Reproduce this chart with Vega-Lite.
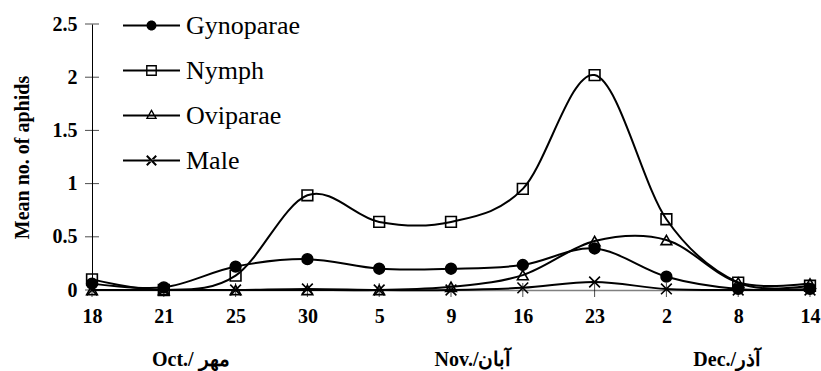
{
  "$schema": "https://vega.github.io/schema/vega-lite/v6.json",
  "autosize": "none",
  "width": 718,
  "height": 266,
  "padding": {"left": 92, "top": 24, "right": 11, "bottom": 81},
  "background": "white",
  "config": {
    "view": {"stroke": null},
    "font": "Liberation Serif",
    "legend": {"labelFont": "Liberation Serif", "labelFontSize": 26, "labelColor": "black"}
  },
  "datasets": {
    "counts": [
      {"day": "18", "series": "Gynoparae", "value": 0.06},
      {"day": "21", "series": "Gynoparae", "value": 0.025},
      {"day": "25", "series": "Gynoparae", "value": 0.22},
      {"day": "30", "series": "Gynoparae", "value": 0.29},
      {"day": "5", "series": "Gynoparae", "value": 0.2},
      {"day": "9", "series": "Gynoparae", "value": 0.2},
      {"day": "16", "series": "Gynoparae", "value": 0.235},
      {"day": "23", "series": "Gynoparae", "value": 0.39},
      {"day": "2", "series": "Gynoparae", "value": 0.125},
      {"day": "8", "series": "Gynoparae", "value": 0.01},
      {"day": "14", "series": "Gynoparae", "value": 0.01},
      {"day": "18", "series": "Nymph", "value": 0.1},
      {"day": "21", "series": "Nymph", "value": 0.0},
      {"day": "25", "series": "Nymph", "value": 0.135},
      {"day": "30", "series": "Nymph", "value": 0.89},
      {"day": "5", "series": "Nymph", "value": 0.64},
      {"day": "9", "series": "Nymph", "value": 0.64},
      {"day": "16", "series": "Nymph", "value": 0.95},
      {"day": "23", "series": "Nymph", "value": 2.02},
      {"day": "2", "series": "Nymph", "value": 0.665},
      {"day": "8", "series": "Nymph", "value": 0.07},
      {"day": "14", "series": "Nymph", "value": 0.04},
      {"day": "18", "series": "Oviparae", "value": 0},
      {"day": "21", "series": "Oviparae", "value": 0},
      {"day": "25", "series": "Oviparae", "value": 0},
      {"day": "30", "series": "Oviparae", "value": 0},
      {"day": "5", "series": "Oviparae", "value": 0},
      {"day": "9", "series": "Oviparae", "value": 0.03},
      {"day": "16", "series": "Oviparae", "value": 0.14},
      {"day": "23", "series": "Oviparae", "value": 0.46},
      {"day": "2", "series": "Oviparae", "value": 0.47},
      {"day": "8", "series": "Oviparae", "value": 0.07},
      {"day": "14", "series": "Oviparae", "value": 0.06},
      {"day": "18", "series": "Male", "value": 0},
      {"day": "21", "series": "Male", "value": 0},
      {"day": "25", "series": "Male", "value": 0},
      {"day": "30", "series": "Male", "value": 0.01},
      {"day": "5", "series": "Male", "value": 0},
      {"day": "9", "series": "Male", "value": 0},
      {"day": "16", "series": "Male", "value": 0.02},
      {"day": "23", "series": "Male", "value": 0.075},
      {"day": "2", "series": "Male", "value": 0.01},
      {"day": "8", "series": "Male", "value": 0},
      {"day": "14", "series": "Male", "value": 0}
    ],
    "yticks": [{"v": 0}, {"v": 0.5}, {"v": 1}, {"v": 1.5}, {"v": 2}, {"v": 2.5}],
    "months": [
      {"month": "Oct./ مهر", "anchor": "21"},
      {"month": "Nov./آبان", "anchor": "9"},
      {"month": "Dec./آذر", "anchor": "8"}
    ]
  },
  "resolve": {"scale": {"shape": "independent"}},
  "layer": [
    {
      "data": {"name": "counts"},
      "mark": {"type": "line", "interpolate": "cardinal", "color": "black", "strokeWidth": 2},
      "encoding": {
        "x": {
          "field": "day", "type": "ordinal",
          "scale": {"type": "point", "padding": 0, "domain": ["18", "21", "25", "30", "5", "9", "16", "23", "2", "8", "14"]},
          "axis": {
            "title": null, "labelAngle": 0, "ticks": false,
            "domainColor": "#808080", "domainWidth": 1.5,
            "labelFont": "Liberation Serif", "labelFontWeight": "bold", "labelFontSize": 20,
            "labelColor": "black", "labelPadding": 16
          }
        },
        "y": {
          "field": "value", "type": "quantitative",
          "scale": {"domain": [0, 2.5], "nice": false, "zero": false},
          "axis": {
            "title": "Mean no. of aphids", "values": [0, 0.5, 1, 1.5, 2, 2.5], "format": "~g",
            "grid": false, "ticks": false, "domainColor": "black", "domainWidth": 1,
            "labelFont": "Liberation Serif", "labelFontWeight": "bold", "labelFontSize": 20,
            "labelColor": "black", "labelPadding": 15,
            "titleFont": "Liberation Serif", "titleFontWeight": "bold", "titleFontSize": 20,
            "titleColor": "black", "titlePadding": 20
          }
        },
        "detail": {"field": "series"}
      }
    },
    {
      "data": {"name": "counts"},
      "mark": {"type": "point", "stroke": "black", "strokeWidth": 1.6, "opacity": 1, "strokeOpacity": 1, "fillOpacity": 1},
      "encoding": {
        "x": {"field": "day", "type": "ordinal"},
        "y": {"field": "value", "type": "quantitative"},
        "shape": {
          "field": "series", "type": "nominal", "legend": null,
          "scale": {"domain": ["Gynoparae", "Nymph", "Oviparae", "Male"],
                    "range": ["circle", "square", "triangle-up", "M-1,-1L1,1M-1,1L1,-1"]}
        },
        "fill": {
          "field": "series", "type": "nominal", "legend": null,
          "scale": {"domain": ["Gynoparae", "Nymph", "Oviparae", "Male"],
                    "range": ["black", "transparent", "transparent", "transparent"]}
        },
        "size": {
          "field": "series", "type": "nominal", "legend": null,
          "scale": {"domain": ["Gynoparae", "Nymph", "Oviparae", "Male"], "range": [115, 115, 120, 200]}
        }
      }
    },
    {
      "data": {"name": "counts"},
      "transform": [{"filter": "false"}],
      "mark": {"type": "point", "filled": true, "color": "black", "strokeWidth": 0, "size": 812, "opacity": 1},
      "encoding": {
        "x": {"field": "day", "type": "ordinal"},
        "y": {"field": "value", "type": "quantitative"},
        "shape": {
          "field": "series", "type": "nominal",
          "scale": {"domain": ["Gynoparae", "Nymph", "Oviparae", "Male"],
                    "range": [
                      "M-2,-0.07L2,-0.07L2,0.07L-2,0.07Z M0.35,0A0.35,0.35,0,1,1,-0.35,0A0.35,0.35,0,1,1,0.35,0Z",
                      "M-2,-0.07L2,-0.07L2,0.07L-2,0.07Z M-0.38,-0.38L0.38,-0.38L0.38,0.38L-0.38,0.38Z M-0.28,-0.28L-0.28,0.28L0.28,0.28L0.28,-0.28Z",
                      "M-2,-0.07L2,-0.07L2,0.07L-2,0.07Z M0,-0.45L0.4,0.25L-0.4,0.25Z M0,-0.263L-0.24,0.157L0.24,0.157Z",
                      "M-2,-0.07L2,-0.07L2,0.07L-2,0.07Z M-0.28,-0.38L0.38,0.28L0.28,0.38L-0.38,-0.28Z M-0.28,0.38L0.38,-0.28L0.28,-0.38L-0.38,0.28Z"
                    ]},
          "legend": {
            "title": null, "orient": "none", "legendX": 45, "legendY": -13,
            "padding": 0, "symbolSize": 812, "symbolStrokeWidth": 0, "symbolFillColor": "black",
            "labelFont": "Liberation Serif", "labelFontSize": 26, "labelColor": "black",
            "labelOffset": 20, "rowPadding": 17, "labelLimit": 300,
            "encode": {"symbols": {"fill": {"value": "black"}, "fillOpacity": {"value": 1}, "opacity": {"value": 1}}}
          }
        }
      }
    },
    {
      "data": {"name": "yticks"},
      "mark": {"type": "tick", "orient": "horizontal", "size": 14, "thickness": 1, "color": "black"},
      "encoding": {
        "x": {"datum": "18", "type": "ordinal"},
        "y": {"field": "v", "type": "quantitative"}
      }
    },
    {
      "data": {"name": "counts"},
      "transform": [{"filter": "datum.series === 'Male'"}],
      "mark": {"type": "tick", "orient": "vertical", "size": 14, "thickness": 1, "color": "black"},
      "encoding": {
        "x": {"field": "day", "type": "ordinal"},
        "y": {"datum": 0, "type": "quantitative"}
      }
    },
    {
      "data": {"name": "months"},
      "transform": [{"filter": "datum.anchor === '21'"}],
      "mark": {"type": "text", "font": "Liberation Serif", "fontWeight": "bold", "fontSize": 20, "color": "black", "dx": 27, "dy": 70, "baseline": "middle"},
      "encoding": {
        "x": {"field": "anchor", "type": "ordinal"},
        "y": {"datum": 0, "type": "quantitative"},
        "text": {"field": "month"}
      }
    },
    {
      "data": {"name": "months"},
      "transform": [{"filter": "datum.anchor === '9'"}],
      "mark": {"type": "text", "font": "Liberation Serif", "fontWeight": "bold", "fontSize": 20, "color": "black", "dx": 22, "dy": 70, "baseline": "middle"},
      "encoding": {
        "x": {"field": "anchor", "type": "ordinal"},
        "y": {"datum": 0, "type": "quantitative"},
        "text": {"field": "month"}
      }
    },
    {
      "data": {"name": "months"},
      "transform": [{"filter": "datum.anchor === '8'"}],
      "mark": {"type": "text", "font": "Liberation Serif", "fontWeight": "bold", "fontSize": 20, "color": "black", "dx": -11, "dy": 70, "baseline": "middle"},
      "encoding": {
        "x": {"field": "anchor", "type": "ordinal"},
        "y": {"datum": 0, "type": "quantitative"},
        "text": {"field": "month"}
      }
    }
  ]
}
